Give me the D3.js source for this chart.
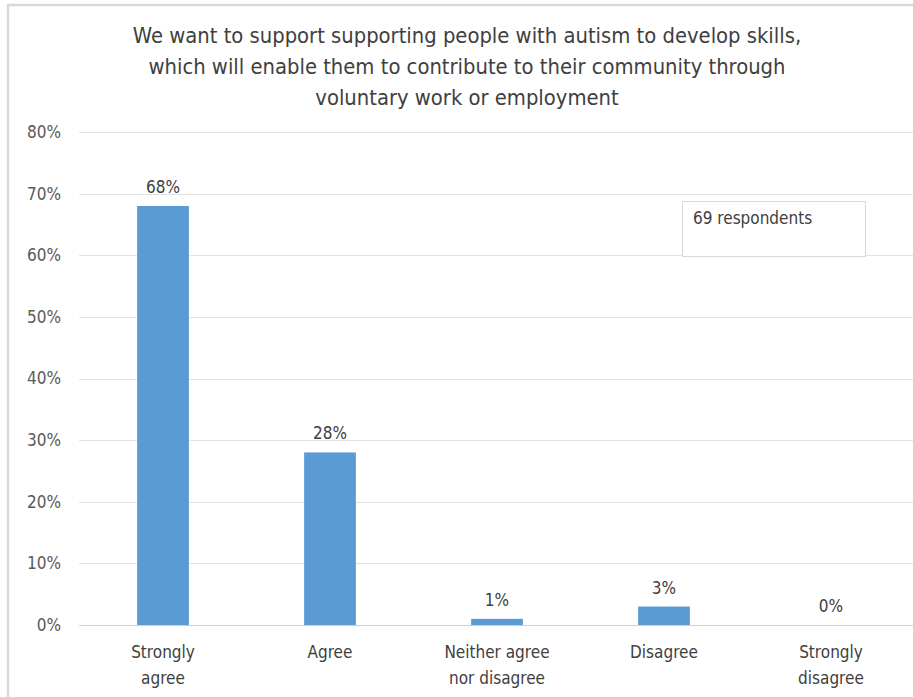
<!DOCTYPE html>
<html>
<head>
<meta charset="utf-8">
<script src="https://cdn.jsdelivr.net/npm/d3@7"></script>
<style>
  body { margin: 0; background: #fff; }
  svg text { font-family: "Liberation Sans Narrow", "DejaVu Sans Condensed", "Open Sans", sans-serif; }
</style>
</head>
<body>
<div id="chart"></div>
<script>
const categories = [["Strongly", "agree"], ["Agree"], ["Neither agree", "nor disagree"], ["Disagree"], ["Strongly", "disagree"]];
const values = [0.68, 0.28, 0.01, 0.03, 0.00];
const yTicks = [0, 0.1, 0.2, 0.3, 0.4, 0.5, 0.6, 0.7, 0.8];
const titleLines = [
  "We want to support supporting people with autism to develop skills,",
  "which will enable them to contribute to their community through",
  "voluntary work or employment"
];
const note = "69 respondents";

const width = 913, height = 697;
const svg = d3.select("#chart").append("svg")
  .attr("width", width)
  .attr("height", height);

// outer frame
svg.append("rect")
  .attr("x", 8).attr("y", 5)
  .attr("width", 920).attr("height", 720)
  .attr("fill", "none")
  .attr("stroke", "#d9d9d9")
  .attr("stroke-width", 2.5);

const x = d3.scaleBand()
  .domain(d3.range(categories.length))
  .range([79.5, 914.5])
  .paddingInner(0.69)
  .paddingOuter(0.345);

const y = d3.scaleLinear().domain([0, 0.8]).range([625, 132]);

// gridlines
svg.selectAll("line.grid")
  .data(yTicks)
  .enter()
  .append("line")
  .classed("grid", true)
  .attr("x1", 79)
  .attr("x2", 913)
  .attr("y1", d => Math.round(y(d)) + 0.5)
  .attr("y2", d => Math.round(y(d)) + 0.5)
  .attr("stroke", d => d === 0 ? "#d0d0d0" : "#e3e3e3")
  .attr("stroke-width", 1);

// y labels
svg.selectAll("text.ytick")
  .data(yTicks)
  .enter()
  .append("text")
  .classed("ytick", true)
  .attr("x", 61)
  .attr("y", d => y(d))
  .attr("dy", "0.35em")
  .attr("text-anchor", "end")
  .attr("font-size", 17)
  .attr("fill", "#595959")
  .text(d => d3.format(".0%")(d));

// bars
svg.selectAll("rect.bar")
  .data(values)
  .enter()
  .append("rect")
  .classed("bar", true)
  .attr("x", (d, i) => x(i))
  .attr("width", x.bandwidth())
  .attr("y", d => y(d))
  .attr("height", d => y(0) - y(d))
  .attr("fill", "#5b9bd5");

// value labels
svg.selectAll("text.val")
  .data(values)
  .enter()
  .append("text")
  .classed("val", true)
  .attr("x", (d, i) => x(i) + x.bandwidth() / 2)
  .attr("y", d => y(d) - 13)
  .attr("text-anchor", "middle")
  .attr("font-size", 17)
  .attr("fill", "#404040")
  .text(d => d3.format(".0%")(d));

// category labels
const cat = svg.selectAll("text.cat")
  .data(categories)
  .enter()
  .append("text")
  .classed("cat", true)
  .attr("text-anchor", "middle")
  .attr("font-size", 17)
  .attr("fill", "#404040");
cat.selectAll("tspan")
  .data((d, i) => d.map(t => ({ t, i })))
  .enter()
  .append("tspan")
  .attr("x", d => x(d.i) + x.bandwidth() / 2)
  .attr("y", (d, j) => 658 + j * 26)
  .text(d => d.t);

// title
svg.append("text")
  .attr("text-anchor", "middle")
  .attr("font-size", 21.8)
  .attr("fill", "#404040")
  .selectAll("tspan")
  .data(titleLines)
  .enter()
  .append("tspan")
  .attr("x", 467)
  .attr("y", (d, i) => 43 + i * 31)
  .text(d => d);

// note box
svg.append("rect")
  .attr("x", 682.5).attr("y", 201.5)
  .attr("width", 183).attr("height", 55)
  .attr("fill", "#fff")
  .attr("stroke", "#d9d9d9");
svg.append("text")
  .attr("x", 693)
  .attr("y", 224)
  .attr("font-size", 17)
  .attr("fill", "#404040")
  .text(note);
</script>
</body>
</html>
